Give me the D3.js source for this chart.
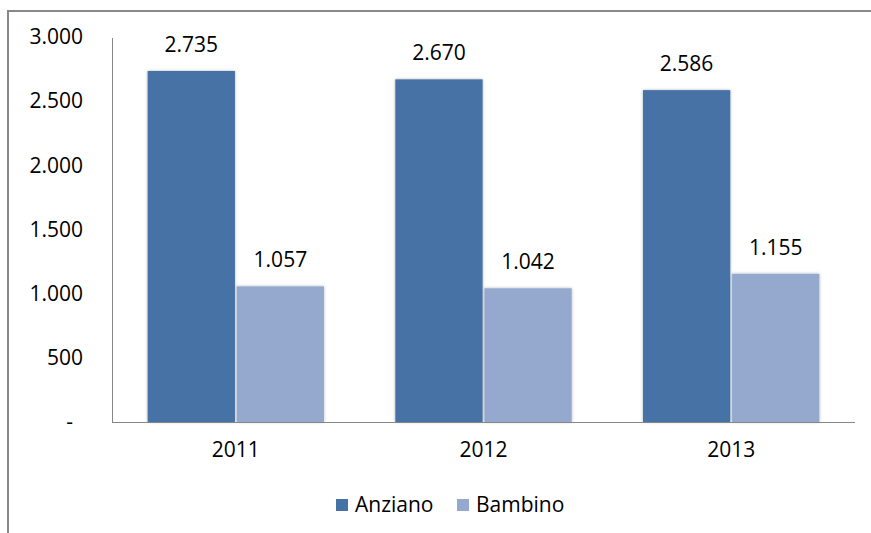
<!DOCTYPE html>
<html>
<head>
<meta charset="utf-8">
<script src="https://cdn.jsdelivr.net/npm/d3@7"></script>
<style>
  html, body { margin: 0; padding: 0; background: #fff; }
  svg { display: block; font-family: "Open Sans", sans-serif; }
</style>
</head>
<body>
<svg id="chart" width="871" height="533"></svg>
<script>
// Series and categories
const years = ["2011", "2012", "2013"];
const seriesNames = ["Anziano", "Bambino"];
const anziano = [2735, 2670, 2586];
const bambino = [1057, 1042, 1155];
const yTickValues = [0, 500, 1000, 1500, 2000, 2500, 3000];
const colors = ["#4672A6", "#95A9CF"];

const rows = years.map((y, i) => ({ year: y, values: [anziano[i], bambino[i]] }));

const W = 871, H = 533;
const plotLeft = 112, plotRight = 855, plotTop = 37, plotBottom = 422;

const it = d3.formatLocale({ decimal: ",", thousands: ".", grouping: [3], currency: ["€", ""] });
const fmt = it.format(",d");

const svg = d3.select("#chart");

// Outer frame (top and left edges)
svg.append("path")
  .attr("d", `M8,${H} V11 H${W}`)
  .attr("fill", "none")
  .attr("stroke", "#898989")
  .attr("stroke-width", 2);

// Soft glow around bars
const defs = svg.append("defs");
const f = defs.append("filter").attr("id", "glow")
  .attr("x", "-10%").attr("y", "-10%").attr("width", "120%").attr("height", "120%");
f.append("feDropShadow")
  .attr("dx", 0).attr("dy", 0).attr("stdDeviation", 1.6)
  .attr("flood-color", "#000").attr("flood-opacity", 0.3);

const x0 = d3.scaleBand().domain(years).range([plotLeft, plotRight]);
const x1 = d3.scaleBand().domain(seriesNames).range([0, x0.bandwidth()])
  .paddingOuter(0.4).paddingInner(0.02);
const y = d3.scaleLinear().domain([0, 3000]).range([plotBottom, plotTop]);

// Bars
const groups = svg.append("g").selectAll("g").data(rows).join("g")
  .attr("transform", d => `translate(${x0(d.year)},0)`);

groups.selectAll("rect")
  .data(d => d.values.map((v, i) => ({ key: seriesNames[i], v, i })))
  .join("rect")
  .attr("x", d => x1(d.key))
  .attr("y", d => y(d.v))
  .attr("width", x1.bandwidth())
  .attr("height", d => y(0) - y(d.v))
  .attr("fill", d => colors[d.i])
  .attr("filter", "url(#glow)");

// Value labels
groups.selectAll("text.val")
  .data(d => d.values.map((v, i) => ({ key: seriesNames[i], v })))
  .join("text")
  .attr("class", "val")
  .attr("x", d => x1(d.key) + x1.bandwidth() / 2)
  .attr("y", d => y(d.v) - 19)
  .attr("text-anchor", "middle")
  .attr("font-size", 21)
  .attr("fill", "#000")
  .text(d => fmt(d.v));

// Y axis
const yAxis = svg.append("g")
  .attr("transform", `translate(${plotLeft},0)`)
  .call(d3.axisLeft(y).tickValues(yTickValues).tickSize(0).tickPadding(29)
    .tickFormat(d => d === 0 ? "-" : fmt(d)));
yAxis.select(".domain").attr("stroke", "#868686").attr("d", `M0.5,${plotTop + 1}V${plotBottom + 0.5}`);
yAxis.selectAll(".tick text")
  .attr("font-size", 21)
  .attr("font-family", "Open Sans, sans-serif")
  .attr("fill", "#000")
  .attr("dx", d => d === 0 ? -10 : 0);

// X axis
const xAxis = svg.append("g")
  .attr("transform", `translate(0,${plotBottom})`)
  .call(d3.axisBottom(x0).tickSize(0).tickPadding(20));
xAxis.select(".domain").attr("stroke", "#868686").attr("d", `M${plotLeft},0.5H${plotRight}`);
xAxis.selectAll(".tick text")
  .attr("font-size", 21)
  .attr("font-family", "Open Sans, sans-serif")
  .attr("fill", "#000");

// Legend
const legendX = [336, 457];
const legend = svg.append("g").selectAll("g").data(seriesNames).join("g")
  .attr("transform", (d, i) => `translate(${legendX[i]},499)`);
legend.append("rect")
  .attr("width", 12).attr("height", 12)
  .attr("fill", (d, i) => colors[i]);
legend.append("text")
  .attr("x", 19).attr("y", 13)
  .attr("font-size", 21)
  .attr("fill", "#000")
  .text(d => d);
</script>
</body>
</html>
